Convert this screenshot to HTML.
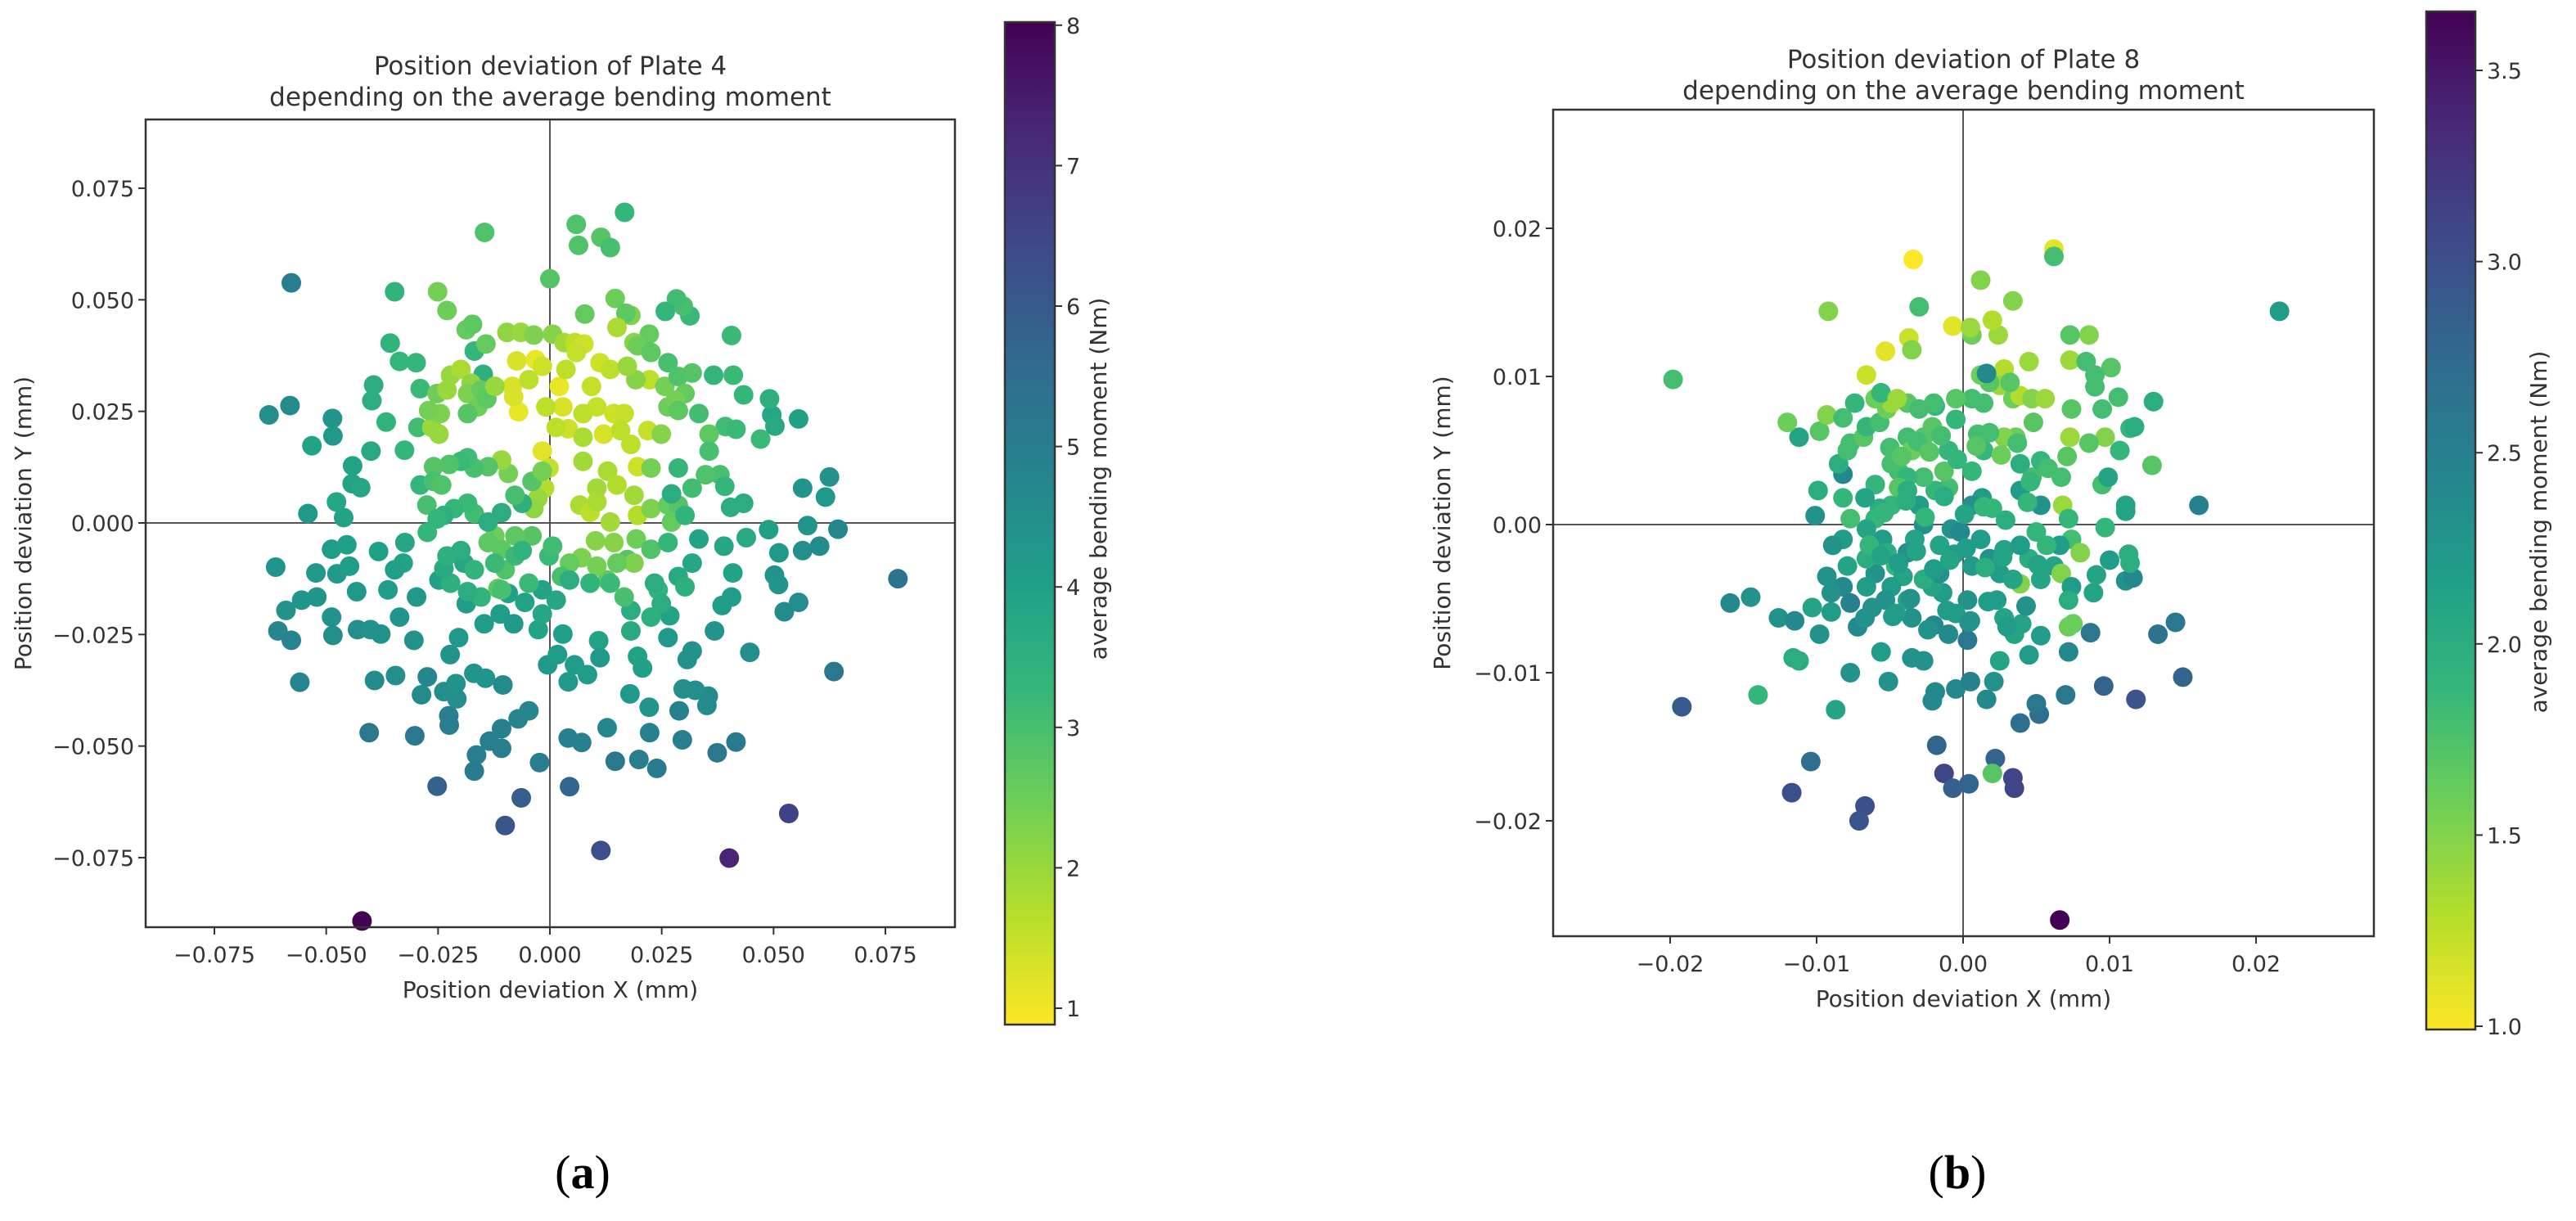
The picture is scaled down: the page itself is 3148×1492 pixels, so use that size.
<!DOCTYPE html>
<html><head><meta charset="utf-8"><style>
html,body{margin:0;padding:0;background:#fff;}
svg{display:block;}
text{font-family:"DejaVu Sans","Liberation Sans",sans-serif;fill:#333;}
</style></head><body>
<svg id="fig" width="3148" height="1492" viewBox="0 0 3148 1492" xmlns="http://www.w3.org/2000/svg">
<defs>
<linearGradient id="vir" x1="0" y1="1" x2="0" y2="0">
<stop offset="0" stop-color="#fde725"/><stop offset="0.111" stop-color="#b5de2b"/><stop offset="0.222" stop-color="#6ece58"/><stop offset="0.333" stop-color="#35b779"/><stop offset="0.444" stop-color="#1f9e89"/><stop offset="0.556" stop-color="#26828e"/><stop offset="0.667" stop-color="#31688e"/><stop offset="0.778" stop-color="#3e4989"/><stop offset="0.889" stop-color="#482878"/><stop offset="1" stop-color="#440154"/>
</linearGradient>
</defs>
<g id="panelA"></g>
<g id="panelB"></g>
<text x="712" y="1452" font-size="58" text-anchor="middle" style="font-family:'Liberation Serif',serif;fill:#000">(<tspan font-weight="bold">a</tspan>)</text>
<text x="2392" y="1452" font-size="58" text-anchor="middle" style="font-family:'Liberation Serif',serif;fill:#000">(<tspan font-weight="bold">b</tspan>)</text>
</svg>
<script>
// Plate 4 data (x, y in micrometres; moment in Nm)
const plate4X=[-42.0,40.1,53.4,11.4,-10.0,-6.4,-25.2,4.4,77.8,63.5,-57.8,-62.8,-58.1,-40.4,-30.2,41.6,37.4,14.6,23.9,19.9,-2.3,-16.9,-16.4,-13.5,-10.8,4.1,7.1,12.8,22.3,29.6,-22.6,-22.5,-4.7,-7.1,-10.8,28.9,35.1,35.4,32.5,-60.8,-57.8,-55.9,-39.2,-34.5,-43.0,-40.1,-37.8,-48.8,-48.5,-59.0,-55.5,-52.1,-61.3,-52.3,-47.6,-43.2,-48.8,-45.4,-38.3,-44.8,-54.1,-47.7,-46.1,-48.6,-48.5,-53.2,-44.1,-44.2,-42.3,-40.0,-39.4,-39.8,-35.7,-34.7,-36.6,-32.5,-33.6,-29.9,-29.0,-29.5,-29.0,-27.5,-27.4,-32.4,-32.8,-34.7,-36.2,-33.6,-30.4,-29.8,-28.7,-27.4,-23.7,-20.8,-21.0,-17.0,-14.4,-10.5,-22.3,-20.4,-18.7,-24.8,-19.2,-14.7,-11.1,-8.1,-9.3,-5.6,-2.6,-1.7,2.9,-0.5,1.7,5.5,8.4,4.1,10.9,11.2,18.1,18.1,19.6,20.7,17.9,22.2,26.4,26.8,30.7,31.8,29.8,36.8,38.5,40.6,40.9,44.7,52.4,55.6,50.2,51.1,51.2,56.5,60.3,48.9,57.6,64.4,56.5,62.5,61.6,55.6,49.6,50.3,49.1,47.1,43.3,40.6,41.0,39.2,41.6,38.0,39.1,40.4,43.3,38.9,43.9,36.6,31.3,29.8,28.3,25.8,22.2,18.8,18.1,14.6,17.0,15.0,7.8,5.9,6.4,11.4,13.5,16.7,-14.6,0,-25.1,-23.0,-18.7,-17.3,-16.9,-14.9,-14.3,-9.6,-6.5,-3.6,0.6,3.2,5.6,7.6,
-3.2,-7.0,-8.4,-7.4,2.1,2.9,4.1,-1.7,-0.2,-1.2,-2.7,-3.6,3.6,9.3,10.5,12.0,14.3,16.6,15.8,18.1,19.6,21.9,22.3,19.2,25.7,26.4,24.9,22.6,7.4,10.5,6.7,9.0,10.5,13.5,14.3,18.8,19.6,22.6,26.4,28.7,27.2,19.3,17.3,18.8,22.6,26.4,10.2,7.1,4.4,2.6,-0.2,0.6,-4.0,-7.8,-12.3,-10.8,-10.0,-11.6,-13.8,-7.8,-6.2,-16.9,-18.4,-21.4,-23.7,-25.2,-13.8,-10.8,-6.2,-7.8,-4.0,-1.7,-9.3,-10.8,-13.8,-16.9,-18.4,-19.9,-22.5,-26.0,-26.0,-24.2,-24.8,-26.4,-24.5,-27.1,-25.2,-23.0,-22.2,-19.9,-17.6,-18.4,-15.4,-16.1,-18.4,-14.1,-12.3,-8.1,-4.7,-1.7,-0.9,1.4,7.4,7.4,12.9,15.0,5.9,11.2,13.5,17.3,19.6,22.6,26.4,28.7,31.8,30.2,28.0,28.7,33.3,35.6,35.6,34.8,31.8,28.7,27.2,30.2,33.3,31.8,28.7,30.2,24.2,23.4,24.9,22.6,16.6,12.8,10.5,15.0,13.5,9.0,4.4,1.4,-1.7,-4.7,-10.8,-15.4,-18.4,-22.2,-23.7,-23.0,-19.9,-16.9,-12.3];
const plate4Y=[-89.2,-75.1,-65.1,-73.4,-67.8,-61.6,-59.0,-59.1,-12.5,-33.3,53.8,24.2,26.3,-47.0,-47.7,-49.1,-51.5,-53.4,-55.0,-53.0,-53.7,-55.6,-52.0,-48.9,-50.5,-48.2,-49.2,-45.9,-47.0,-48.6,-43.2,-45.3,-42.1,-43.9,-46.1,-42.1,-40.9,-38.8,-37.5,-24.2,-26.3,-35.7,-35.3,-34.2,-23.9,-23.9,-24.9,-21.1,-25.2,-19.6,-17.3,-16.6,-9.9,-11.2,-11.4,-15.4,-5.9,-4.9,-6.4,-9.7,2.1,4.7,1.2,23.4,19.5,17.3,12.8,8.8,7.9,16.1,30.9,27.4,40.3,51.8,22.6,16.3,36.2,35.9,30.1,21.4,8.5,4.0,-2.1,-4.4,-9.0,-10.5,-15.0,-21.1,-26.3,-16.6,-38.5,-34.5,-37.8,-39.4,-36.0,-33.7,-34.8,-36.3,-29.5,-25.7,-18.1,-12.8,-9.0,-22.6,-20.4,-22.6,-15.8,-17.8,-23.9,-20.4,-24.9,-31.8,-29.5,-31.8,-34.0,-35.6,-26.4,-30.2,-24.2,-19.6,-29.9,-32.5,-38.3,-41.3,-25.7,-20.8,-30.6,-28.7,-37.2,-24.2,-18.5,-16.6,-11.2,-29.0,-19.9,-17.8,-11.7,-13.8,-6.7,-6.2,-5.2,-1.5,-0.6,-1.4,7.8,10.3,5.8,23.3,24.2,21.7,27.8,18.8,28.7,42.0,33.1,21.6,21.0,10.8,8.2,3.5,4.4,-5.2,-3.3,33.1,46.4,48.6,50.2,47.4,42.3,40.4,46.5,50.3,47.0,43.8,46.8,66.9,62.2,64.0,61.7,69.6,65.1,54.7,51.8,47.6,43.3,44.5,38.5,33.3,40.1,42.7,42.7,42.1,42.3,40.4,40.4,40.1,
36.6,24.9,30.6,36.3,30.6,26.0,21.1,16.1,12.3,7.8,5.5,3.2,34.4,30.6,26.0,19.9,24.5,24.5,20.7,17.6,12.6,20.7,32.1,32.1,30.6,26.0,19.9,12.3,13.8,7.8,4.0,2.4,4.7,0.2,-4.4,6.2,1.7,3.2,4.0,4.0,0.2,-3.6,-8.2,-9.0,-5.9,-4.4,-4.0,-7.8,-9.0,-12.0,-7.4,-5.2,-2.9,-2.9,-2.9,-5.9,-10.5,-14.7,-4.4,-7.4,-6.2,2.1,4.4,3.2,1.7,0.9,0.2,2.3,4.4,6.2,9.3,11.6,11.1,14.1,12.6,12.3,14.6,13.8,13.1,12.6,9.3,8.5,19.9,21.4,24.5,25.2,29.0,29.8,33.1,34.4,31.3,29.0,29.8,26.0,24.5,27.8,30.6,28.3,32.1,35.1,26.0,21.4,24.5,19.2,11.6,8.5,38.2,35.9,34.4,35.1,39.7,38.2,35.9,32.8,33.6,29.0,27.5,25.2,24.5,19.9,16.1,10.8,7.8,12.3,6.5,1.7,-3.6,-9.0,-12.0,-14.3,-15.0,-13.5,-18.1,-21.1,-16.6,-12.8,-9.7,-9.0,-13.5,-13.5,-12.8,-17.3,-15.0,-13.5,-15.0,-16.6,-15.4,-13.5,-10.2,-7.4,-6.2,-10.5,-9.0];
const plate4M=[8.0,7.3,6.6,6.3,6.1,5.9,5.8,5.7,5.3,5.2,5.0,4.5,4.6,5.2,5.2,5.1,5.2,5.2,5.1,5.0,5.0,5.1,5.0,5.0,5.0,4.9,4.9,4.7,4.9,5.0,5.0,5.0,4.7,4.8,4.9,4.9,4.6,4.6,4.5,4.7,4.8,4.8,4.6,4.5,4.5,4.4,4.4,4.4,4.5,4.4,4.3,4.3,4.3,4.2,4.2,4.2,4.1,4.0,4.0,4.1,4.2,3.8,3.9,4.3,4.2,3.9,3.9,3.9,3.8,3.7,3.6,3.6,3.4,3.4,3.4,3.3,3.3,3.3,3.2,3.1,3.3,3.0,3.3,3.8,3.9,4.0,4.1,4.3,4.4,4.2,4.6,4.7,4.5,4.5,4.4,4.3,4.3,4.6,4.4,4.2,4.1,4.0,3.8,4.1,4.1,4.2,4.0,3.9,3.9,3.8,4.0,4.2,4.1,4.1,4.1,4.2,3.9,4.2,3.7,3.6,3.9,4.0,4.2,4.3,4.2,3.9,4.4,4.4,4.5,4.3,4.1,4.1,3.9,4.5,4.6,4.5,4.4,4.3,4.2,4.5,4.6,4.0,4.3,4.7,4.3,4.4,4.2,4.0,3.8,3.7,3.5,3.2,3.3,3.2,3.2,3.1,3.2,3.0,3.3,3.6,3.6,3.8,3.7,3.3,3.2,3.0,3.1,3.3,2.6,2.2,2.3,2.5,2.7,1.8,2.6,2.9,2.9,2.8,3.0,3.3,2.9,2.8,2.4,2.5,2.6,2.7,3.3,3.5,2.6,2.1,2.0,2.3,2.2,1.9,1.6,1.4,
1.1,1.1,1.3,1.3,1.1,1.3,1.4,1.2,1.5,1.7,2.0,2.1,1.6,1.5,1.5,1.3,1.4,1.5,1.6,1.6,1.4,1.5,1.6,2.2,2.4,2.5,2.2,2.4,1.9,1.9,1.8,1.6,1.8,1.9,2.2,1.9,1.7,2.3,2.6,2.8,2.6,2.5,2.8,2.3,2.9,3.3,2.2,2.3,2.6,3.0,3.2,3.1,2.8,2.7,2.5,2.7,2.9,2.7,2.7,3.2,3.4,3.1,3.2,3.3,3.5,3.3,3.6,3.6,3.5,3.0,2.8,2.4,2.4,2.0,2.8,3.0,3.1,3.2,2.9,2.8,3.0,2.9,2.0,2.0,2.3,2.4,2.5,2.0,2.0,1.8,2.1,2.3,2.6,2.5,2.8,2.7,2.0,1.3,1.6,1.4,1.6,1.6,1.6,1.8,1.8,1.7,1.5,1.4,1.6,2.0,2.5,2.7,3.0,2.9,2.8,2.6,2.4,2.7,3.1,2.7,3.0,2.9,3.1,3.3,3.6,3.4,3.9,3.8,3.7,3.5,3.4,3.6,3.6,3.5,3.0,2.7,2.4,2.6,3.2,3.4,3.6,3.8,3.9,3.2,3.0,3.4,3.6,3.5,3.7,3.5,3.6,3.4,3.2];
// Plate 8 data
const plate8X=[6.6,3.5,3.4,-1.3,-11.7,-6.7,-7.1,-19.2,11.8,15.0,9.6,-0.7,0.4,-1.8,2.2,-10.4,3.9,5.2,5.0,7.0,8.7,13.3,14.5,16.1,21.6,-19.8,-15.9,-14.5,-14.0,-12.6,-11.5,-11.6,-11.2,-9.8,-10.3,-9.0,-8.7,-7.7,-7.2,-6.7,-5.6,-5.1,-3.5,-2.7,-2.0,-1.9,-2.1,-0.5,0.5,1.6,2.0,2.1,2.5,3.5,4.0,4.5,5.3,7.2,7.5,8.9,9.1,10.0,11.1,11.6,11.3,9.7,11.1,11.1,9.5,9.9,12.9,10.7,11.4,11.7,9.7,9.5,8.6,10.6,10.1,9.0,9.0,8.6,7.3,7.3,7.4,7.3,7.1,6.7,6.8,7.2,7.4,6.6,6.2,5.3,6.7,7.4,7.2,3.9,4.5,5.7,5.0,5.3,3.9,4.7,5.3,3.9,3.4,2.4,4.5,2.8,2.5,3.4,3.9,4.7,5.6,4.8,3.6,2.8,1.8,1.4,1.0,1.4,0.6,1.3,0.6,2.0,1.2,1.8,0.6,2.8,2.5,3.4,2.3,2.8,0.3,0.5,0.3,-1.0,-0.5,-1.4,-2.1,-2.7,-1.6,-0.6,-1.6,-0.8,-0.2,-1.0,-1.9,-2.7,-1.3,-1.0,-0.5,0.6,1.2,0.6,2.0,1.2,-0.7,-0.5,-1.9,-2.1,-2.7,-3.8,-3.5,-4.4,-3.8,-4.4,-4.9,-5.7,-6.0,-6.6,-7.7,-8.2,-8.9,-10.1,-9.9,-8.2,-8.5,-7.9,-7.7,-6.8,-6.6,-5.7,-5.2,-4.9,-3.8,-3.0,-2.0,-3.8,-3.0,-2.7,-3.3,-3.8,-4.6,-4.1,-4.9,-5.3,-3.8,-3.5,-4.6,-6.0,-6.6,-7.9,-8.2,-9.3,-9.0,-7.7,-6.6,-5.5,-5.2,-6.4,-8.2,-4.9,-6.0,-6.7,-11.2,-12.0,-9.8,-9.3,-8.2,-7.4,-6.0,-5.6,-4.5,-3.7,-3.5,-5.3,-6.6,-9.2,-3.0,-3.4,6.2,6.2,0.5,1.6,3.2,8.4,13.0,11.4,8.0,7.2,
-5.0,-4.2,-3.1,-2.3,-1.5,-0.4,0.9,1.8,2.6,3.7,4.6,5.8,-5.6,-4.4,-3.2,-2.0,-0.9,0.2,1.5,2.7,3.9,5.1,-6.2,-4.8,-3.6,-2.4,-1.1,0.4,1.7,3.0,4.3,-5.4,-3.9,-2.6,-1.3,0.1,1.4,2.9,4.4];
const plate8Y=[-26.7,-17.8,-17.1,-16.8,-18.1,-19.0,-20.0,-12.3,-11.8,-10.3,-10.9,-17.8,-17.5,-14.9,-15.8,-16.0,-13.4,-12.8,-12.1,-11.5,-7.3,-7.4,-6.6,1.3,14.4,9.8,-5.3,-4.9,-11.5,-6.3,-6.5,-9.0,-9.2,-7.4,-5.6,-5.9,-12.5,-10.0,-6.9,-6.3,-8.6,-10.6,-9.0,-9.2,-6.8,-11.3,-11.9,-11.1,-10.6,-11.8,-16.8,-10.6,-9.2,-7.4,-6.7,-8.8,-7.5,-8.6,-6.7,-4.6,-3.4,-2.4,-3.8,-3.6,-2.0,-0.2,1.3,0.9,2.7,3.2,4.0,5.0,6.5,6.6,5.9,7.8,5.5,8.6,10.6,10.1,9.3,12.8,11.1,12.8,7.8,5.9,4.6,3.2,1.3,0.4,-1.0,-1.4,-2.8,-3.7,-3.3,-4.2,-5.1,-4.0,-2.3,-1.4,-0.5,1.3,2.3,3.2,4.3,4.1,15.1,12.8,11.0,10.5,9.4,8.5,8.7,8.5,8.5,6.9,5.9,5.9,9.6,8.2,6.1,5.0,3.6,1.8,1.3,1.1,-1.0,-2.3,-2.8,-1.7,-3.3,-3.7,-5.1,-6.3,-5.1,-6.5,-7.8,-7.4,-6.0,-4.6,-4.2,-3.7,-3.3,-2.0,-1.4,-0.3,-0.5,2.5,2.3,3.2,3.6,5.0,7.1,8.5,10.1,12.8,13.8,16.5,13.4,8.5,8.0,6.6,5.9,5.9,5.0,3.6,3.2,2.5,1.3,1.1,0.4,-0.3,0.4,-1.0,-1.4,0.6,2.3,3.4,4.1,5.0,5.5,5.9,6.6,6.9,7.8,8.2,8.2,7.8,8.2,2.3,1.3,0.0,-1.0,-1.9,-2.8,-3.5,-4.2,-5.1,-5.1,-6.3,-6.0,-3.3,-4.2,-2.8,-4.2,-3.5,-4.6,-5.3,-2.3,-1.0,-1.9,-1.4,1.8,4.1,2.7,1.8,5.9,6.9,6.3,7.4,7.2,8.2,8.5,8.9,8.5,12.6,11.8,11.7,10.1,14.4,14.7,17.9,18.6,18.1,13.3,10.2,9.6,11.0,8.3,-2.6,-1.9,-6.9,
5.2,4.6,5.6,4.9,6.0,4.4,5.3,6.2,4.7,5.5,2.9,3.8,-2.1,-2.6,-1.8,-3.0,-2.4,-1.6,-2.9,-2.2,-1.4,-2.7,-5.6,-6.2,-5.0,-7.1,-5.8,-6.6,-5.2,-6.9,-5.5,0.8,1.6,0.5,1.9,0.7,1.2,0.3,1.5];
const plate8M=[3.65,3.1,3.1,3.1,3.0,3.0,2.95,2.9,2.95,2.8,2.8,2.85,2.8,2.8,2.8,2.7,2.7,2.7,2.6,2.6,2.6,2.65,2.6,2.5,2.2,1.8,2.4,2.3,1.9,2.3,2.4,2.0,2.0,2.3,2.1,2.2,2.1,2.3,2.4,2.3,2.2,2.3,2.3,2.3,2.4,2.4,2.4,2.4,2.5,2.4,1.7,2.3,2.1,2.1,2.1,2.2,2.2,2.4,1.6,2.1,2.1,2.2,2.3,2.4,2.0,1.9,2.1,2.1,1.8,2.1,1.7,1.9,1.9,2.0,1.5,1.8,1.7,1.8,1.7,1.8,1.8,1.5,1.4,1.7,1.7,1.4,1.7,1.8,1.4,1.9,1.8,2.2,2.1,2.1,1.5,2.2,2.0,1.5,2.0,1.9,1.9,2.3,2.2,1.8,1.9,2.0,1.5,1.4,1.4,1.3,1.4,1.6,1.3,1.5,1.4,1.7,1.6,1.5,1.7,1.8,1.8,1.9,1.9,2.2,2.3,1.9,2.2,2.3,2.2,2.1,2.2,2.1,2.2,2.1,2.3,2.2,2.6,2.4,2.2,2.2,2.1,2.0,2.3,2.2,2.1,2.3,2.4,1.8,1.9,1.8,1.7,1.9,1.9,1.8,1.6,1.6,1.3,1.5,1.1,1.7,1.9,1.7,1.7,1.8,1.6,1.8,1.9,1.7,1.9,2.0,1.9,2.1,1.8,2.2,2.3,2.3,2.0,2.4,2.0,1.8,1.8,1.7,1.9,1.8,1.6,1.4,1.7,1.8,1.8,2.0,2.2,2.3,2.1,2.3,1.9,2.1,2.2,2.3,2.1,2.3,2.2,2.3,2.2,2.1,2.4,2.3,2.3,2.5,2.0,2.2,2.0,1.9,1.9,1.8,1.9,2.1,2.1,1.6,1.7,1.5,1.8,1.9,1.6,1.9,1.4,1.2,1.5,1.1,1.2,1.5,1.8,1.0,1.1,1.8,1.4,2.4,1.7,1.8,2.0,2.0,1.5,1.6,
1.8,1.7,1.8,1.7,1.8,1.9,1.7,1.8,1.6,1.8,1.9,1.8,2.1,2.2,2.1,2.2,2.1,2.2,2.0,2.1,2.2,2.1,2.3,2.2,2.3,2.3,2.2,2.3,2.2,2.2,2.3,1.9,2.0,1.9,2.0,2.1,1.9,2.0,1.9];
const ticks4X=[-75,-50,-25,0,25,50,75];
const ticks4XLabels=["\u22120.075","\u22120.050","\u22120.025","0.000","0.025","0.050","0.075"];
const ticks4Y=[75,50,25,0,-25,-50,-75];
const ticks4YLabels=["0.075","0.050","0.025","0.000","\u22120.025","\u22120.050","\u22120.075"];
const cbar4Ticks=[1,2,3,4,5,6,7,8];
const ticks8X=[-20,-10,0,10,20];
const ticks8XLabels=["\u22120.02","\u22120.01","0.00","0.01","0.02"];
const ticks8Y=[20,10,0,-10,-20];
const ticks8YLabels=["0.02","0.01","0.00","\u22120.01","\u22120.02"];
const cbar8Ticks=[1.0,1.5,2.0,2.5,3.0,3.5];
const cbar8Labels=["1.0","1.5","2.0","2.5","3.0","3.5"];

const NS="http://www.w3.org/2000/svg";
const VIR=["#fde725","#b5de2b","#6ece58","#35b779","#1f9e89","#26828e","#31688e","#3e4989","#482878","#440154"];
function hex(c){return [parseInt(c.slice(1,3),16),parseInt(c.slice(3,5),16),parseInt(c.slice(5,7),16)];}
function cmap(t){t=Math.max(0,Math.min(1,t));const p=t*9,i=Math.min(8,Math.floor(p)),f=p-i;const a=hex(VIR[i]),b=hex(VIR[i+1]);return "rgb("+a.map((v,k)=>Math.round(v+(b[k]-v)*f)).join(",")+")";}
function el(tag,attrs,parent,txt){const e=document.createElementNS(NS,tag);for(const k in attrs)e.setAttribute(k,attrs[k]);if(txt!==undefined)e.textContent=txt;parent.appendChild(e);return e;}

function panel(g,cfg){
  const sx=v=>cfg.x0+v*cfg.kx, sy=v=>cfg.y0-v*cfg.ky;
  const cy=v=>cfg.cb0-(v-cfg.cbRef)*cfg.ck;
  const tt=v=>(v-cfg.vmin)/(cfg.vmax-cfg.vmin);
  const t1=el("text",{x:(cfg.L+cfg.R)/2,y:cfg.t1,"font-size":31,"text-anchor":"middle"},g,cfg.title1);
  
  
  const t2=el("text",{x:(cfg.L+cfg.R)/2,y:cfg.t1+38,"font-size":31,"text-anchor":"middle"},g,"depending on the average bending moment");
  
  
  const zx=el("line",{x1:sx(0),x2:sx(0),y1:cfg.T,y2:cfg.B,stroke:"#555","stroke-width":2},g);
  
  
  const zy=el("line",{x1:cfg.L,x2:cfg.R,y1:sy(0),y2:sy(0),stroke:"#555","stroke-width":2},g);
  
  
  const pg=el("g",{},g);
  
  
  for(let i=0;i<cfg.xs.length;i++){
    const c=el("circle",{cx:sx(cfg.xs[i]),cy:sy(cfg.ys[i]),r:cfg.r,fill:cmap(tt(cfg.ms[i]))},pg);
    
    
  }
  const fr=el("rect",{x:cfg.L,y:cfg.T,width:cfg.R-cfg.L,height:cfg.B-cfg.T,fill:"none",stroke:"#333","stroke-width":2.5},g);
  
  
  cfg.tx.forEach((v,i)=>{
    const x=sx(v);
    el("line",{x1:x,x2:x,y1:cfg.B,y2:cfg.B+9,stroke:"#333","stroke-width":2},g);
    const l=el("text",{x:x,y:cfg.B+43,"font-size":27,"text-anchor":"middle"},g,cfg.txl[i]);
    
    
  });
  cfg.ty.forEach((v,i)=>{
    const y=sy(v);
    el("line",{x1:cfg.L-9,x2:cfg.L,y1:y,y2:y,stroke:"#333","stroke-width":2},g);
    const l=el("text",{x:cfg.L-14,y:y+10,"font-size":27,"text-anchor":"end"},g,cfg.tyl[i]);
    
    
  });
  const xl=el("text",{x:(cfg.L+cfg.R)/2,y:cfg.B+86,"font-size":28,"text-anchor":"middle"},g,"Position deviation X (mm)");
  
  
  const yl=el("text",{x:0,y:0,"font-size":28,"text-anchor":"middle",transform:"translate("+cfg.ylx+","+((cfg.T+cfg.B)/2)+") rotate(-90)"},g,"Position deviation Y (mm)");
  
  
  const cb=el("rect",{x:cfg.cbL,y:cfg.cbT,width:cfg.cbW,height:cfg.cbB-cfg.cbT,fill:"url(#vir)",stroke:"#333","stroke-width":2.5},g);
  
  
  cfg.ct.forEach((v,i)=>{
    const y=cy(v);
    el("line",{x1:cfg.cbL+cfg.cbW,x2:cfg.cbL+cfg.cbW+9,y1:y,y2:y,stroke:"#333","stroke-width":2},g);
    const l=el("text",{x:cfg.cbL+cfg.cbW+14,y:y+10,"font-size":27},g,cfg.ctl[i]);
    
    
  });
  const cl=el("text",{x:0,y:0,"font-size":28,"text-anchor":"middle",transform:"translate("+cfg.clx+","+cfg.cly+") rotate(-90)"},g,"average bending moment (Nm)");
  
  
}

panel(document.getElementById("panelA"),{
  xs:plate4X,ys:plate4Y,ms:plate4M,r:12,
  L:178,R:1167,T:146,B:1133,x0:672,y0:639,kx:410/75,ky:409/75,
  tx:ticks4X,txl:ticks4XLabels,ty:ticks4Y,tyl:ticks4YLabels,
  title1:"Position deviation of Plate 4",t1:91,ylx:38,
  cbL:1228,cbW:61,cbT:27,cbB:1252,cb0:1232,cbRef:1,ck:171.6,vmin:0.88,vmax:8.03,
  ct:cbar4Ticks,ctl:cbar4Ticks.map(String),clx:1352,cly:585
});
panel(document.getElementById("panelB"),{
  xs:plate8X,ys:plate8Y,ms:plate8M,r:12,
  L:1898,R:2901,T:134,B:1144,x0:2399,y0:641,kx:358/20,ky:362/20,
  tx:ticks8X,txl:ticks8XLabels,ty:ticks8Y,tyl:ticks8YLabels,
  title1:"Position deviation of Plate 8",t1:83,ylx:1772,
  cbL:2965,cbW:60,cbT:14,cbB:1258,cb0:1254,cbRef:1,ck:467.2,vmin:0.99,vmax:3.66,
  ct:cbar8Ticks,ctl:cbar8Labels,clx:3112,cly:650
});
</script>
</body></html>
